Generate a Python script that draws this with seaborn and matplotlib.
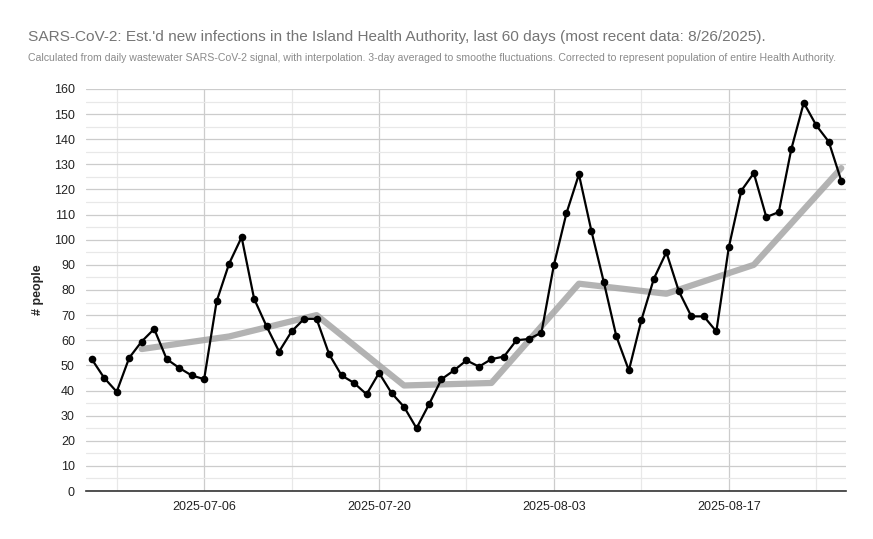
import pandas as pd
import matplotlib.pyplot as plt
import matplotlib.dates as mdates
from matplotlib.ticker import MultipleLocator
import seaborn as sns

# daily estimated new infections (3-day averaged), 2025-06-27 .. 2025-08-26
daily_start = "2025-06-27"
daily_values = [
    52.5, 45, 39.5, 53, 59.5, 64.5, 52.5, 49, 46, 44.5,
    75.5, 90.5, 101, 76.5, 65.5, 55.5, 63.5, 68.5, 68.5, 54.5,
    46, 43, 38.5, 47, 39, 33.5, 25, 34.5, 44.5, 48,
    52, 49.5, 52.5, 53.5, 60, 60.5, 63, 90, 110.5, 126,
    103.5, 83, 61.5, 48, 68, 84.5, 95, 79.5, 69.5, 69.5,
    63.5, 97, 119.5, 126.5, 109, 111, 136, 154.5, 145.5, 139,
    123.5,
]

# weekly trend
weekly_dates = ["2025-07-01", "2025-07-08", "2025-07-15", "2025-07-22", "2025-07-29",
                "2025-08-05", "2025-08-12", "2025-08-19", "2025-08-26"]
weekly_values = [56.5, 61.5, 70, 42, 43, 82.5, 78.5, 90, 128.5]

title = "SARS-CoV-2: Est.'d new infections in the Island Health Authority, last 60 days (most recent data: 8/26/2025)."
subtitle = ("Calculated from daily wastewater SARS-CoV-2 signal, with interpolation. 3-day averaged to smoothe "
            "fluctuations. Corrected to represent population of entire Health Authority.")

daily = pd.DataFrame({
    "date": pd.date_range(daily_start, periods=len(daily_values), freq="D"),
    "people": daily_values,
})
weekly = pd.DataFrame({"date": pd.to_datetime(weekly_dates), "people": weekly_values})

sns.set_style("white")
plt.rcParams["font.family"] = ["Liberation Sans", "DejaVu Sans"]

fig = plt.figure(figsize=(8.73, 5.39), dpi=100)
ax = fig.add_axes([0.0985, 0.089, 0.8705, 0.746])

sns.lineplot(data=weekly, x="date", y="people", ax=ax, color="#a6a6a6", alpha=0.85,
             linewidth=4.5, zorder=2)
sns.lineplot(data=daily, x="date", y="people", ax=ax, color="black", linewidth=1.6,
             marker="o", markersize=5.5, markeredgewidth=0, zorder=3)

ax.set_ylim(0, 160)
ax.set_xlim(pd.Timestamp("2025-06-26 13:00"), pd.Timestamp("2025-08-26 09:00"))

ax.yaxis.set_major_locator(MultipleLocator(10))
ax.yaxis.set_minor_locator(MultipleLocator(5))
label_days = pd.to_datetime(["2025-07-06", "2025-07-20", "2025-08-03", "2025-08-17"])
minor_days = pd.to_datetime(["2025-06-29", "2025-07-13", "2025-07-27", "2025-08-10", "2025-08-24"])
ax.set_xticks(label_days)
ax.set_xticks(minor_days, minor=True)
ax.xaxis.set_major_formatter(mdates.DateFormatter("%Y-%m-%d"))

ax.grid(which="major", color="#cccccc", linewidth=0.9)
ax.grid(which="minor", color="#e8e8e8", linewidth=0.9)
ax.set_axisbelow(True)

for s in ["top", "right", "left"]:
    ax.spines[s].set_visible(False)
ax.spines["bottom"].set_color("#333333")
ax.spines["bottom"].set_linewidth(1.2)

ax.tick_params(axis="both", which="both", length=0, labelsize=9, labelcolor="#222222")
ax.tick_params(axis="x", pad=7)
ax.tick_params(axis="y", pad=8)

ax.set_xlabel("")
ax.set_ylabel("# people", fontsize=9, fontweight="bold", labelpad=7)

fig.text(0.032, 0.931, title, fontsize=11.1, color="#757575", va="center", ha="left")
fig.text(0.032, 0.892, subtitle, fontsize=7.6, color="#8a8a8a", va="center", ha="left")

plt.savefig("out.png", dpi=100)
